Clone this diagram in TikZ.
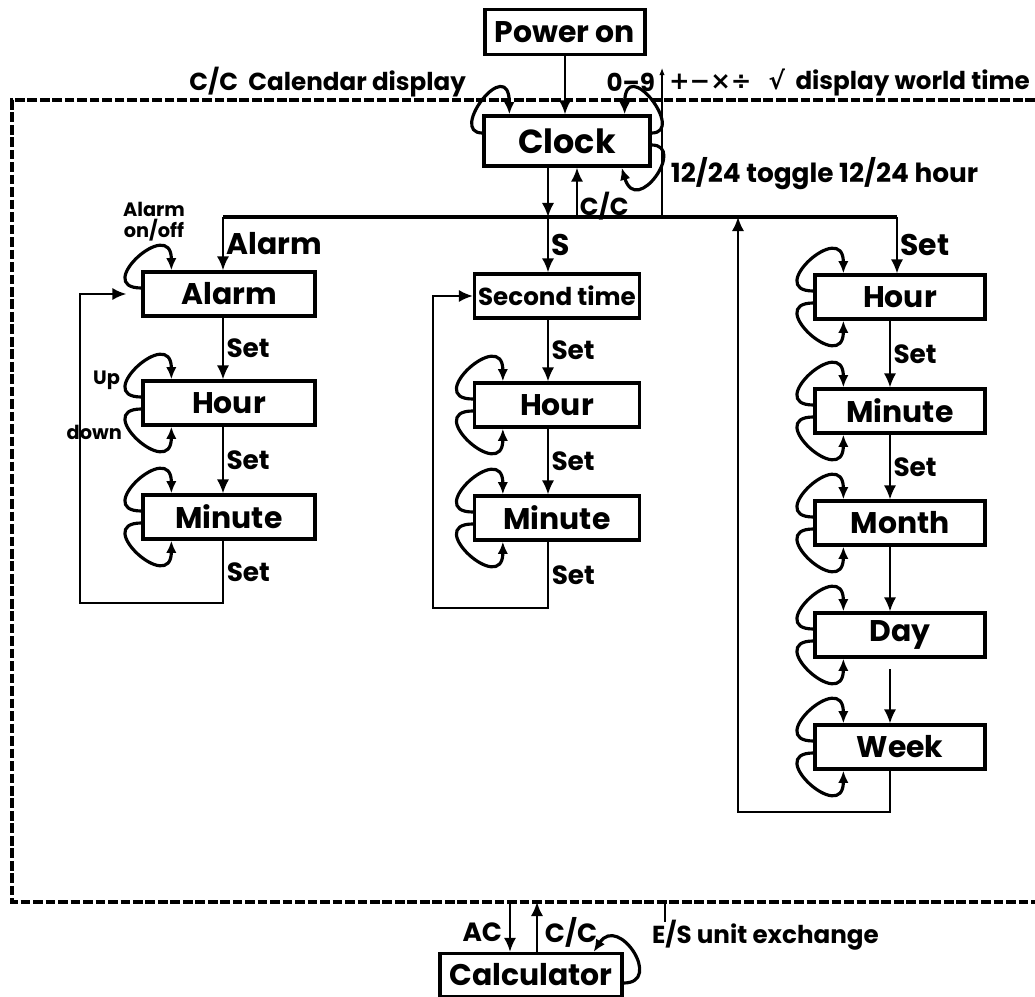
\documentclass[tikz,border=0pt]{standalone}
\usepackage{fontspec}
\setmainfont{Poppins}
\newfontfamily\symfont{DejaVu Sans}
\usepackage{tikz}
\usetikzlibrary{calc,arrows.meta,positioning}

\begin{document}
\begin{tikzpicture}[
    x=0.02cm, y=-0.02cm,
    box/.style={rectangle, draw=black, line width=1.9pt, fill=white,
                minimum width=3.44cm, minimum height=0.88cm, inner sep=0pt,
                font=\fontsize{17}{20}\selectfont\bfseries},
    lbl/.style={inner sep=1.5pt, font=\fontsize{15}{18}\selectfont\bfseries},
    small/.style={inner sep=1pt, font=\fontsize{14}{16}\selectfont\bfseries},
    tiny/.style={inner sep=1pt, align=center, font=\fontsize{11}{12}\selectfont\bfseries},
    arrow/.style={-{Latex[length=8pt, width=7pt]}, line width=1.3pt},
    thinarrow/.style={-{Latex[length=4pt, width=3pt]}, line width=0.6pt},
    selfloop/.style={-{Latex[length=7pt, width=6pt]}, line width=1.8pt},
    bus/.style={line width=2.2pt},
    frame/.style={line width=1.8pt, dash pattern=on 5.5pt off 1.6pt}
]
\useasboundingbox (0,0) rectangle (1035,997);

% ================= FRAME =================
\draw[frame] (1035,100) -- (12,100) -- (12,902) -- (1035,902);

% ================= NODES =================
% Top
\node[box, minimum width=3.2cm, minimum height=0.9cm] (Power) at (565, 32) {Power on};
\node[box, minimum width=3.32cm, minimum height=1.0cm,
      font=\fontsize{19}{22}\selectfont\bfseries] (Clock) at (567, 141) {Clock};

% Alarm column
\node[box] (Alarm) at (229, 294) {Alarm};
\node[box] (AHour) at (229, 403) {Hour};
\node[box] (AMin) at (229, 517) {Minute};

% Second time column
\node[box, minimum width=3.3cm, font=\fontsize{14}{16}\selectfont\bfseries] (Second) at (557, 296) {Second time};
\node[box, minimum width=3.3cm] (SHour) at (557, 405) {Hour};
\node[box, minimum width=3.3cm] (SMin) at (557, 518) {Minute};

% Time setting column
\node[box, minimum width=3.4cm] (THour) at (900, 297) {Hour};
\node[box, minimum width=3.4cm] (TMin) at (900, 411) {Minute};
\node[box, minimum width=3.4cm] (TMonth) at (900, 523) {Month};
\node[box, minimum width=3.4cm] (TDay) at (900, 635) {Day};
\node[box, minimum width=3.4cm] (TWeek) at (900, 747) {Week};

% Calculator
\node[box, minimum width=3.64cm, minimum height=0.86cm] (Calc) at (531, 975) {Calculator};

% Texts
\node[small, anchor=east] (CalTxt) at (468, 82) {C/C\ \ Calendar display};
\node[small, anchor=east] (DigTxt) at (657, 82) {0--9};
\node[small, anchor=west] (WorldTxt) at (667, 82) {{\symfont +−×÷\ \ √}\ \ display world time};
\node[lbl, anchor=west] (ToggleTxt) at (668, 174) {12/24 toggle 12/24 hour};
\node[tiny] (OnOff) at (154, 222) {Alarm\\on/off};
\node[tiny, anchor=east] (UpTxt) at (122, 380) {Up};
\node[tiny, anchor=east] (DownTxt) at (124, 432) {down};
\node[lbl, anchor=east] (ACTxt) at (505, 932) {AC};
\node[lbl, anchor=west] (CCTxt) at (542, 932) {C/C};
\node[small, anchor=west] (ESTxt) at (650, 935) {E/S unit exchange};

% Coordinates
\coordinate (BusL) at (223, 217);
\coordinate (BusR) at (897, 217);
\coordinate (Cdown) at (548, 217);
\coordinate (Cup) at (577, 217);
\coordinate (WTop) at (662, 68);
\coordinate (TX) at (890, 217);
\coordinate (AFb) at (80, 603);
\coordinate (SFb) at (433, 608);
\coordinate (TFb) at (738, 812);
\coordinate (AcX) at (510, 902);
\coordinate (CcX) at (537, 902);
\coordinate (ESTop) at (665, 902);

% ================= DRAWING ARROWS =================
% Power on and clock
\draw[arrow] (Power.south) -- (Power.south |- Clock.north);
\draw[bus] (BusL) -- (BusR);
\draw[arrow] (Clock.south -| Cdown) -- (Cdown);
\draw[arrow] (Cup) -- node[pos=0.22, right, small] {C/C} (Cup |- Clock.south);
\draw[thinarrow] (WTop |- BusL) -- (WTop);

% Branches from the bus
\draw[arrow] (BusL) -- node[right, lbl, font=\fontsize{17}{20}\selectfont\bfseries] {Alarm} (BusL |- Alarm.north);
\draw[arrow] (Cdown) -- node[right, lbl, font=\fontsize{17}{20}\selectfont\bfseries] {S} (Cdown |- Second.north);
\draw[arrow, line width=1pt] (BusR) -- node[right, lbl, font=\fontsize{17}{20}\selectfont\bfseries] {Set} (BusR |- THour.north);

% Alarm column
\draw[arrow, line width=1pt] (Alarm.south -| BusL) -- node[right, lbl] {Set} (AHour.north -| BusL);
\draw[arrow, line width=1pt] (AHour.south -| BusL) -- node[right, lbl] {Set} (AMin.north -| BusL);
\draw[arrow] (AMin.south -| BusL) |- node[pos=0.25, right, lbl] {Set} (AFb) |- ($(Alarm.west)+(-15,0)$);

% Second time column
\draw[arrow, line width=1pt] (Second.south -| Cdown) -- node[right, lbl] {Set} (SHour.north -| Cdown);
\draw[arrow, line width=1pt] (SHour.south -| Cdown) -- node[right, lbl] {Set} (SMin.north -| Cdown);
\draw[arrow] (SMin.south -| Cdown) |- node[pos=0.25, right, lbl] {Set} (SFb) |- (Second.west);

% Time setting column
\draw[arrow, line width=1pt] (THour.south -| TX) -- node[right, lbl] {Set} (TMin.north -| TX);
\draw[arrow, line width=1pt] (TMin.south -| TX) -- node[right, lbl] {Set} (TMonth.north -| TX);
\draw[arrow, line width=1pt] (TMonth.south -| TX) -- (TDay.north -| TX);
\draw[arrow, line width=1pt, shorten <=6pt] (TDay.south -| TX) -- (TWeek.north -| TX);
\draw[arrow] (TWeek.south -| TX) |- (TFb) -- (TFb |- BusR);

% Calculator
\draw[arrow] (AcX) -- (AcX |- Calc.north);
\draw[arrow] (CcX |- Calc.north) -- (CcX);
\draw[thinarrow, -] (ESTop) -- ($(ESTop)+(0,20)$);

% ================= SELF LOOPS =================
% Clock
\draw[selfloop] ($(Clock.west)+(0,-8)$) .. controls +(-35,0) and +(0,-62) .. ($(Clock.north west)+(27,0)$);
\draw[selfloop] ($(Clock.east)+(0,-8)$) .. controls +(35,0) and +(0,-62) .. ($(Clock.north east)+(-27,0)$);
\draw[selfloop] ($(Clock.east)+(0,4)$) .. controls +(35,0) and +(15,50) .. ($(Clock.south east)+(-30,0)$);

% Alarm column
\draw[selfloop] ($(Alarm.west)+(0,-6)$) .. controls +(-50,0) and +(0,-55) .. ($(Alarm.north west)+(30,0)$);
\draw[selfloop] ($(AHour.west)+(0,-6)$) .. controls +(-50,0) and +(0,-55) .. ($(AHour.north west)+(30,0)$);
\draw[selfloop] ($(AHour.west)+(0,6)$) .. controls +(-50,0) and +(0,55) .. ($(AHour.south west)+(30,0)$);
\draw[selfloop] ($(AMin.west)+(0,-6)$) .. controls +(-50,0) and +(0,-55) .. ($(AMin.north west)+(30,0)$);
\draw[selfloop] ($(AMin.west)+(0,6)$) .. controls +(-50,0) and +(0,55) .. ($(AMin.south west)+(30,0)$);

% Second time column
\draw[selfloop] ($(SHour.west)+(0,-6)$) .. controls +(-50,0) and +(0,-55) .. ($(SHour.north west)+(30,0)$);
\draw[selfloop] ($(SHour.west)+(0,6)$) .. controls +(-50,0) and +(0,55) .. ($(SHour.south west)+(30,0)$);
\draw[selfloop] ($(SMin.west)+(0,-6)$) .. controls +(-50,0) and +(0,-55) .. ($(SMin.north west)+(30,0)$);
\draw[selfloop] ($(SMin.west)+(0,6)$) .. controls +(-50,0) and +(0,55) .. ($(SMin.south west)+(30,0)$);

% Time setting column
\draw[selfloop] ($(THour.west)+(0,-6)$) .. controls +(-50,0) and +(0,-55) .. ($(THour.north west)+(30,0)$);
\draw[selfloop] ($(THour.west)+(0,6)$) .. controls +(-50,0) and +(0,55) .. ($(THour.south west)+(30,0)$);
\draw[selfloop] ($(TMin.west)+(0,-6)$) .. controls +(-50,0) and +(0,-55) .. ($(TMin.north west)+(30,0)$);
\draw[selfloop] ($(TMin.west)+(0,6)$) .. controls +(-50,0) and +(0,55) .. ($(TMin.south west)+(30,0)$);
\draw[selfloop] ($(TMonth.west)+(0,-6)$) .. controls +(-50,0) and +(0,-55) .. ($(TMonth.north west)+(30,0)$);
\draw[selfloop] ($(TMonth.west)+(0,6)$) .. controls +(-50,0) and +(0,55) .. ($(TMonth.south west)+(30,0)$);
\draw[selfloop] ($(TDay.west)+(0,-6)$) .. controls +(-50,0) and +(0,-55) .. ($(TDay.north west)+(30,0)$);
\draw[selfloop] ($(TDay.west)+(0,6)$) .. controls +(-50,0) and +(0,55) .. ($(TDay.south west)+(30,0)$);
\draw[selfloop] ($(TWeek.west)+(0,-6)$) .. controls +(-50,0) and +(0,-55) .. ($(TWeek.north west)+(30,0)$);
\draw[selfloop] ($(TWeek.west)+(0,6)$) .. controls +(-50,0) and +(0,55) .. ($(TWeek.south west)+(30,0)$);

% Calculator
\draw[selfloop] ($(Calc.east)+(0,8)$) .. controls +(40,0) and +(25,-38) .. ($(Calc.north east)+(-30,0)$);

\end{tikzpicture}
\end{document}
